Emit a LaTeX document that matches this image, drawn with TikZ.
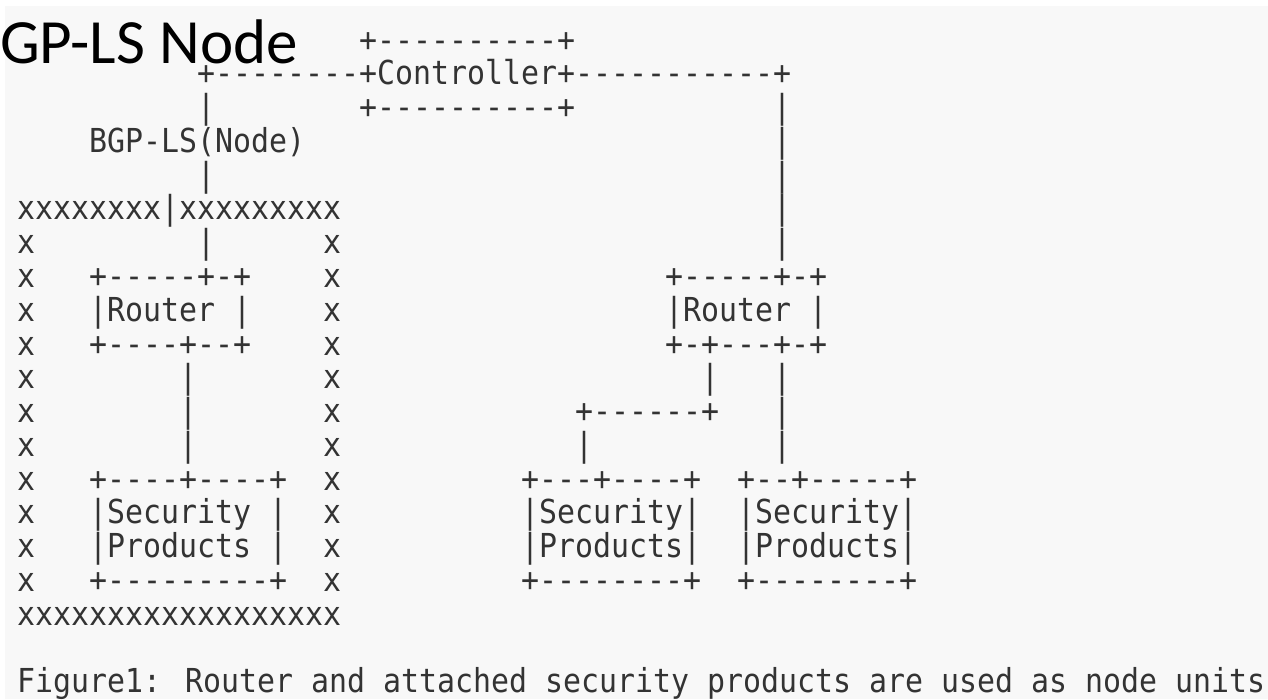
\documentclass[tikz,border=0pt]{standalone}
\usepackage{fontspec}
\newfontfamily\asciifont[FakeStretch=0.906,Ligatures=TeXOff]{DejaVu Sans Mono}
\newfontfamily\titlefont{Carlito}
\definecolor{paper}{RGB}{248,248,248}
\definecolor{ink}{RGB}{51,51,51}

\begin{document}
\begin{tikzpicture}[x=18pt,y=-33.78pt,
  ascii/.style={font=\asciifont\fontsize{33pt}{33pt}\selectfont,text=ink,inner sep=0pt,anchor=base west},
  heading/.style={font=\titlefont\fontsize{63pt}{63pt}\selectfont,text=black,inner sep=0pt,anchor=base east}]
\fill[white] (0pt,0pt) rectangle (1268pt,-699pt);
\fill[paper] (5pt,-6pt) rectangle (1268pt,-699pt);
\useasboundingbox (0pt,0pt) rectangle (1268pt,-699pt);

\node[heading] (title) at (298pt,-63pt) {GP-LS Node};

\begin{scope}[shift={(17pt,-51pt)}]
% controller
\node[ascii] (ctrltop) at (19,0) {+----------+};
\node[ascii] (ctrl) at (10,1) {+--------+Controller+-----------+};
\node[ascii] (ctrlbot) at (19,2) {+----------+};
% link down to the left unit
\node[ascii] (la2) at (10,2) {|};
\node[ascii] (bgpls) at (4,3) {BGP-LS(Node)};
\node[ascii] (la4) at (10,4) {|};
\node[ascii] (la6) at (10,6) {|};
% link down to the right router
\node[ascii] (lb2) at (42,2) {|};
\node[ascii] (lb3) at (42,3) {|};
\node[ascii] (lb4) at (42,4) {|};
\node[ascii] (lb5) at (42,5) {|};
\node[ascii] (lb6) at (42,6) {|};
% node unit border
\node[ascii] (xtop) at (0,5) {xxxxxxxx|xxxxxxxxx};
\node[ascii] (xl6) at (0,6) {x};
\node[ascii] (xl7) at (0,7) {x};
\node[ascii] (xl8) at (0,8) {x};
\node[ascii] (xl9) at (0,9) {x};
\node[ascii] (xl10) at (0,10) {x};
\node[ascii] (xl11) at (0,11) {x};
\node[ascii] (xl12) at (0,12) {x};
\node[ascii] (xl13) at (0,13) {x};
\node[ascii] (xl14) at (0,14) {x};
\node[ascii] (xl15) at (0,15) {x};
\node[ascii] (xl16) at (0,16) {x};
\node[ascii] (xr6) at (17,6) {x};
\node[ascii] (xr7) at (17,7) {x};
\node[ascii] (xr8) at (17,8) {x};
\node[ascii] (xr9) at (17,9) {x};
\node[ascii] (xr10) at (17,10) {x};
\node[ascii] (xr11) at (17,11) {x};
\node[ascii] (xr12) at (17,12) {x};
\node[ascii] (xr13) at (17,13) {x};
\node[ascii] (xr14) at (17,14) {x};
\node[ascii] (xr15) at (17,15) {x};
\node[ascii] (xr16) at (17,16) {x};
\node[ascii] (xbot) at (0,17) {xxxxxxxxxxxxxxxxxx};
% left router and security products
\node[ascii] (rtratop) at (4,7) {+-----+-+};
\node[ascii] (rtra) at (4,8) {|Router |};
\node[ascii] (rtrabot) at (4,9) {+----+--+};
\node[ascii] (lc10) at (9,10) {|};
\node[ascii] (lc11) at (9,11) {|};
\node[ascii] (lc12) at (9,12) {|};
\node[ascii] (secatop) at (4,13) {+----+----+};
\node[ascii] (seca1) at (4,14) {|Security |};
\node[ascii] (seca2) at (4,15) {|Products |};
\node[ascii] (secabot) at (4,16) {+---------+};
% right router
\node[ascii] (rtrbtop) at (36,7) {+-----+-+};
\node[ascii] (rtrb) at (36,8) {|Router |};
\node[ascii] (rtrbbot) at (36,9) {+-+---+-+};
\node[ascii] (ld10) at (38,10) {|};
\node[ascii] (le10) at (42,10) {|};
\node[ascii] (ld11) at (31,11) {+------+};
\node[ascii] (le11) at (42,11) {|};
\node[ascii] (ld12) at (31,12) {|};
\node[ascii] (le12) at (42,12) {|};
% right security products
\node[ascii] (secbtop) at (28,13) {+---+----+};
\node[ascii] (secb1) at (28,14) {|Security|};
\node[ascii] (secb2) at (28,15) {|Products|};
\node[ascii] (secbbot) at (28,16) {+--------+};
\node[ascii] (secctop) at (40,13) {+--+-----+};
\node[ascii] (secc1) at (40,14) {|Security|};
\node[ascii] (secc2) at (40,15) {|Products|};
\node[ascii] (seccbot) at (40,16) {+--------+};
% caption
\node[ascii] (caption) at (0,19) {Figure1: Router and attached security products are used as node units};
\end{scope}
\end{tikzpicture}
\end{document}
